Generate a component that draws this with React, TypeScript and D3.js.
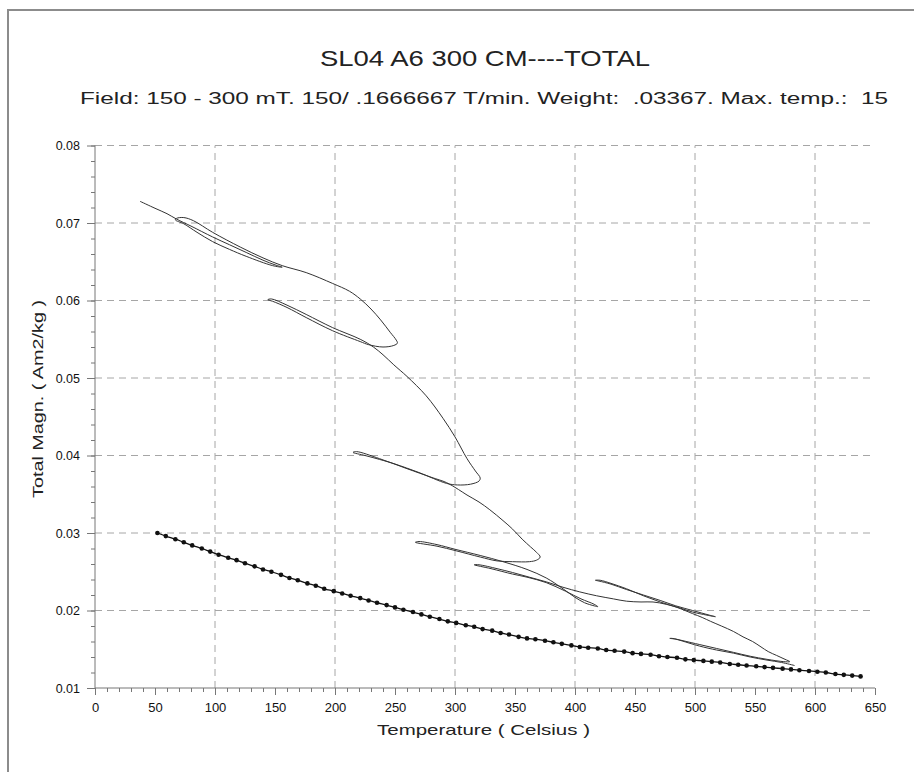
import { useEffect, useRef } from "react";
import * as d3 from "d3";

const title = "SL04 A6 300 CM----TOTAL";
const subtitle =
  "Field: 150 - 300 mT. 150/ .1666667 T/min. Weight:  .03367. Max. temp.:  15";
const xLabel = "Temperature ( Celsius )";
const yLabel = "Total Magn. ( Am2/kg )";

const xTicks = [0, 50, 100, 150, 200, 250, 300, 350, 400, 450, 500, 550, 600, 650];
const yTicks = [0.01, 0.02, 0.03, 0.04, 0.05, 0.06, 0.07, 0.08];
const xGrid = [100, 200, 300, 400, 500, 600];

// stepwise heating / cooling run (temperature, magnetisation)
const cycleTemps = [
  37.5, 50, 60, 68, 80, 98, 112, 126, 140, 150, 156,
  148, 126, 112, 98, 85, 74, 67, 68,
  74, 82, 98, 121, 140, 156, 176, 198, 212, 221, 230, 238, 246, 251, 252, 249, 240, 228,
  221, 198, 176, 160, 148, 144, 147,
  160, 176, 198, 221, 232, 240, 249, 260, 276, 290, 300, 310, 317, 321, 320, 313, 302, 293,
  270, 250, 237, 225, 215, 218,
  237, 260, 280, 293, 303, 310, 320, 329, 340, 348, 356, 363, 368, 371, 368, 362, 348, 335, 321, 301, 285, 267, 270,
  285, 300, 321, 340, 360, 376, 390, 400, 408, 416, 419, 416, 405, 392, 376, 360, 348, 330, 316, 320,
  335, 348, 362, 376, 390, 404, 418, 432, 443, 455, 465, 476, 488, 498, 510, 517, 512,
  498, 484, 471, 457, 443, 430, 420, 417, 421,
  430, 443, 457, 471, 485, 498, 506, 513, 522, 532, 540, 548, 555, 561, 568, 575, 579, 574, 560, 546, 532, 518, 504, 490, 481, 479,
  484, 495, 504, 518, 532, 546, 560, 572, 583,
];
const cycleMagn = [
  0.0728, 0.0719, 0.0712, 0.0705, 0.0696, 0.0682, 0.0672, 0.0662, 0.0652, 0.0646, 0.0643,
  0.0645, 0.0657, 0.0666, 0.0676, 0.0688, 0.0699, 0.0704, 0.0706,
  0.0707, 0.0703, 0.0688, 0.0669, 0.0655, 0.0645, 0.0636, 0.0622, 0.0612, 0.0602, 0.0589, 0.0575, 0.0559, 0.0549, 0.0545, 0.0542, 0.054, 0.0543,
  0.0547, 0.0561, 0.0578, 0.0591, 0.0599, 0.0601, 0.0602,
  0.0594, 0.0582, 0.0565, 0.055, 0.054, 0.053, 0.0517, 0.0502, 0.0477, 0.0448, 0.0424, 0.0396, 0.038, 0.0371, 0.0367, 0.0363, 0.0362, 0.0364,
  0.0378, 0.0389, 0.0395, 0.04, 0.0404, 0.0405,
  0.0396, 0.0383, 0.0372, 0.0365, 0.0356, 0.0349, 0.034, 0.033, 0.0316, 0.0305, 0.0292, 0.0282, 0.0275, 0.0269, 0.0265, 0.0263, 0.0263, 0.0264, 0.0269, 0.0277, 0.0283, 0.0288, 0.0289,
  0.0285, 0.0279, 0.0271, 0.0263, 0.0253, 0.0242, 0.0228, 0.0217, 0.021, 0.0206, 0.0205, 0.0208, 0.0215, 0.0225, 0.0236, 0.0243, 0.0247, 0.0254, 0.0259, 0.0259,
  0.0254, 0.0249, 0.0243, 0.0237, 0.023, 0.0224, 0.0219, 0.0215, 0.0212, 0.0211, 0.0211, 0.0208, 0.0203, 0.0198, 0.0194, 0.0192, 0.0194,
  0.02, 0.0206, 0.0213, 0.022, 0.0227, 0.0234, 0.0238, 0.0239, 0.0239,
  0.0235, 0.0228, 0.0219, 0.0211, 0.0204, 0.0196, 0.0191, 0.0186, 0.018, 0.0173, 0.0166, 0.016, 0.0153, 0.0147, 0.0142, 0.0137, 0.0134, 0.0134, 0.0137, 0.0141, 0.0146, 0.0151, 0.0156, 0.0161, 0.0164, 0.0164,
  0.0163, 0.0158, 0.0154, 0.0149, 0.0145, 0.014, 0.0136, 0.0133, 0.0129,
];

// dotted run
const dotTemps = [
  52, 59, 67, 74, 81, 89, 96, 103, 111, 118, 125, 133, 140, 147, 155, 162, 169, 177, 184, 191,
  199, 206, 213, 221, 228, 235, 243, 250, 257, 265, 272, 279, 287, 294, 301, 309, 316, 323, 331, 338,
  345, 353, 360, 367, 375, 382, 389, 397, 404, 411, 419, 426, 433, 441, 448, 455, 463, 470, 477, 485,
  492, 499, 507, 514, 521, 529, 536, 543, 551, 558, 565, 573, 580, 587, 595, 602, 609, 617, 624, 631, 638,
];
const dotMagn = [
  0.03, 0.0296, 0.0292, 0.0288, 0.0284, 0.028, 0.0276, 0.0272, 0.0268, 0.0265, 0.0261, 0.0257, 0.0253, 0.025, 0.0246, 0.0242, 0.0239, 0.0235, 0.0232, 0.0228,
  0.0225, 0.0222, 0.0219, 0.0216, 0.0213, 0.021, 0.0207, 0.0204, 0.0201, 0.0198, 0.0195, 0.0192, 0.0189, 0.0186, 0.0184, 0.0181, 0.0179, 0.0176, 0.0174, 0.0171,
  0.0169, 0.0166, 0.0164, 0.0163, 0.0161, 0.0159, 0.0157, 0.0155, 0.0153, 0.0152, 0.0151, 0.0149, 0.0148, 0.0147, 0.0145, 0.0144, 0.0143, 0.0141, 0.014, 0.0139,
  0.0137, 0.0136, 0.0135, 0.0134, 0.0133, 0.0131, 0.013, 0.0129, 0.0128, 0.0127, 0.0126, 0.0125, 0.0124, 0.0123, 0.0122, 0.0121, 0.012, 0.0118, 0.0117, 0.0116, 0.0115,
];

const W = 914;
const H = 772;
const font = "'Liberation Sans', Arial, sans-serif";

export default function App() {
  const ref = useRef<SVGSVGElement>(null);

  useEffect(() => {
    const svg = d3.select(ref.current!);
    svg.selectAll("*").remove();

    const x = d3.scaleLinear().domain([0, 650]).range([95, 875]);
    const y = d3.scaleLinear().domain([0.01, 0.08]).range([688, 145.5]);

    // frame
    svg
      .append("rect")
      .attr("x", 8)
      .attr("y", 10)
      .attr("width", 940)
      .attr("height", 800)
      .attr("fill", "white")
      .attr("stroke", "#8c8c8c")
      .attr("stroke-width", 2);

    // titles
    svg
      .append("text")
      .attr("x", 320)
      .attr("y", 66)
      .attr("textLength", 330)
      .attr("lengthAdjust", "spacingAndGlyphs")
      .attr("font-family", font)
      .attr("font-size", 22)
      .attr("fill", "#222")
      .text(title);
    svg
      .append("text")
      .attr("x", 80)
      .attr("y", 104)
      .attr("textLength", 808)
      .attr("lengthAdjust", "spacingAndGlyphs")
      .attr("font-family", font)
      .attr("font-size", 16)
      .attr("fill", "#222")
      .style("white-space", "pre")
      .text(subtitle);

    // grid
    const grid = svg
      .append("g")
      .attr("stroke", "#a6a6a6")
      .attr("stroke-width", 1)
      .attr("stroke-dasharray", "7,5");
    grid
      .selectAll("line.h")
      .data(yTicks.slice(1))
      .join("line")
      .attr("x1", x(0))
      .attr("x2", x(648))
      .attr("y1", (d) => y(d))
      .attr("y2", (d) => y(d));
    grid
      .selectAll("line.v")
      .data(xGrid)
      .join("line")
      .attr("class", "v")
      .attr("x1", (d) => x(d))
      .attr("x2", (d) => x(d))
      .attr("y1", y(0.01))
      .attr("y2", y(0.08));

    // x axis
    svg
      .append("g")
      .attr("transform", `translate(0,${y(0.01)})`)
      .call(
        d3
          .axisBottom(x)
          .tickValues(d3.range(0, 651, 10))
          .tickSize(4)
          .tickFormat(() => "")
      )
      .call((g) => g.select(".domain").attr("stroke", "#777").attr("d", `M${x(0)},0H${x(650)}`))
      .call((g) => g.selectAll(".tick line").attr("stroke", "#777"));
    svg
      .append("g")
      .attr("transform", `translate(0,${y(0.01)})`)
      .call(d3.axisBottom(x).tickValues(xTicks).tickSize(7).tickPadding(8))
      .call((g) => g.select(".domain").remove())
      .call((g) => g.selectAll(".tick line").attr("stroke", "#777"))
      .call((g) =>
        g
          .selectAll(".tick text")
          .attr("font-family", font)
          .attr("font-size", 13)
          .attr("fill", "#111")
      );

    // y axis
    svg
      .append("g")
      .attr("transform", `translate(${x(0)},0)`)
      .call(
        d3
          .axisLeft(y)
          .tickValues(d3.range(0, 36).map((i) => 0.01 + i * 0.002))
          .tickSize(4)
          .tickFormat(() => "")
      )
      .call((g) => g.select(".domain").attr("stroke", "#777").attr("d", `M0,${y(0.01)}V${y(0.08)}`))
      .call((g) => g.selectAll(".tick line").attr("stroke", "#777"));
    svg
      .append("g")
      .attr("transform", `translate(${x(0)},0)`)
      .call(d3.axisLeft(y).tickValues(yTicks).tickSize(8).tickPadding(7).tickFormat(d3.format(".2f")))
      .call((g) => g.select(".domain").remove())
      .call((g) => g.selectAll(".tick line").attr("stroke", "#777"))
      .call((g) =>
        g
          .selectAll(".tick text")
          .attr("font-family", font)
          .attr("font-size", 12.5)
          .attr("fill", "#111")
      );

    // axis titles
    svg
      .append("text")
      .attr("x", 377)
      .attr("y", 735)
      .attr("textLength", 213)
      .attr("lengthAdjust", "spacingAndGlyphs")
      .attr("font-family", font)
      .attr("font-size", 15)
      .attr("fill", "#222")
      .text(xLabel);
    svg
      .append("text")
      .attr("transform", "translate(43,498) rotate(-90)")
      .attr("textLength", 198)
      .attr("lengthAdjust", "spacingAndGlyphs")
      .attr("font-family", font)
      .attr("font-size", 15)
      .attr("fill", "#222")
      .text(yLabel);

    // heating / cooling line
    const cycle = cycleTemps.map((t, i) => [t, cycleMagn[i]] as [number, number]);
    const line = d3
      .line<[number, number]>()
      .x((d) => x(d[0]))
      .y((d) => y(d[1]))
      .curve(d3.curveCatmullRom.alpha(0.5));
    svg
      .append("path")
      .datum(cycle)
      .attr("d", line)
      .attr("fill", "none")
      .attr("stroke", "#333")
      .attr("stroke-width", 1);

    // dotted run
    const dots = dotTemps.map((t, i) => [t, dotMagn[i]] as [number, number]);
    svg
      .append("path")
      .datum(dots)
      .attr("d", line)
      .attr("fill", "none")
      .attr("stroke", "#111")
      .attr("stroke-width", 1.3);
    svg
      .append("g")
      .selectAll("circle")
      .data(dots)
      .join("circle")
      .attr("cx", (d) => x(d[0]))
      .attr("cy", (d) => y(d[1]))
      .attr("r", 2.3)
      .attr("fill", "#111");
  }, []);

  return (
    <svg
      ref={ref}
      width={W}
      height={H}
      style={{ position: "absolute", left: 0, top: 0, background: "white" }}
    />
  );
}
